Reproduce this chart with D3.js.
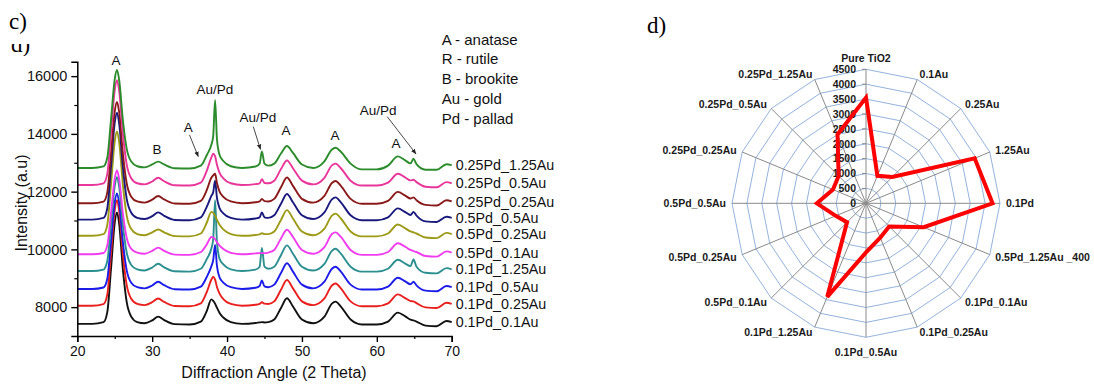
<!DOCTYPE html>
<html><head><meta charset="utf-8">
<script src="https://cdn.jsdelivr.net/npm/d3@7"></script>
<style>body{margin:0;background:#fff}svg{display:block}</style>
</head><body>
<svg id="chart" width="1094" height="385"></svg>
<script>
// ---------- XRD panel data ----------
const angles = [20,22,23.5,24,24.5, 25,25.3,25.6,26.1,26.6, 27.2,28,29,30,30.8, 31.6,33,35,36.5,37.3,
  37.9,38.15,38.4,38.65,39, 39.5,40.5,42,43.8,44.35, 44.65,45,45.5,46.3,47.2, 48,48.8,50,51.5,53,
  54,54.5,55.2,56.5,58, 60,61.5,62.8,63.8,64.5, 64.9,65.3,66.5,68,69.3, 70];
const seriesNames = ["0.1Pd_0.1Au","0.1Pd_0.25Au","0.1Pd_0.5Au","0.1Pd_1.25Au","0.5Pd_0.1Au",
  "0.5Pd_0.25Au","0.5Pd_0.5Au","0.25Pd_0.25Au","0.25Pd_0.5Au","0.25Pd_1.25Au"];
const baselines = [7420,8050,8630,9250,9830,10470,11030,11600,12230,12820];
// intensities above each series' baseline, read at the angles above
const pd01_au01 = [0,0,60,400,1900, 3500,3860,3450,1850,750, 250,60,20,120,250, 130,-10,-20,80,450, 850,800,700,560,380, 220,60,0,30,50, 60,50,60,150,550, 890,600,150,20,250, 700,770,600,150,-20, -20,80,390,260,150, 120,80,-60,-80,100, 60];
const pd01_au025 = [0,0,57,378,1797, 3311,3650,3264,1750,710, 237,60,20,120,250, 130,-10,-20,80,480, 900,1000,900,650,420, 230,60,0,30,60, 120,70,60,150,550, 890,600,150,20,250, 700,770,600,150,-20, -20,80,390,260,160, 150,90,-60,-80,100, 60];
const pd01_au05 = [0,0,51,343,1630, 3002,3310,2960,1587,644, 215,60,20,120,250, 130,-10,-20,80,420, 780,1000,1520,800,400, 220,60,0,40,100, 290,90,60,150,550, 890,600,150,20,250, 700,770,600,150,-20, -20,80,390,260,160, 250,120,-60,-80,100, 60];
const pd01_au125 = [0,0,51,337,1600, 2947,3250,2905,1558,632, 211,60,20,120,250, 130,-10,-20,80,420, 780,1100,2450,1000,420, 230,60,0,50,150, 800,150,80,150,550, 890,600,150,20,250, 700,770,600,150,-20, -20,80,390,260,170, 400,150,-60,-80,100, 60];
const pd05_au01 = [0,0,45,300,1427, 2629,2900,2591,1389,563, 188,60,20,120,230, 120,-10,-20,80,350, 600,580,520,420,300, 180,50,0,30,40, 40,40,60,150,550, 850,600,150,20,250, 700,760,600,150,-20, -20,80,380,260,150, 110,80,-60,-80,100, 60];
const pd05_au025 = [0,0,56,374,1777, 3273,3610,3226,1730,701, 234,60,20,120,220, 120,-10,-20,80,460, 830,800,700,560,380, 220,60,0,30,50, 90,60,60,150,550, 890,600,150,20,250, 700,770,600,150,-20, -20,80,390,260,150, 120,80,-60,-80,100, 60];
const pd05_au05 = [0,0,58,384,1822, 3356,3700,3309,1774,719, 240,60,20,120,250, 130,-10,-20,80,450, 820,950,1350,750,400, 220,60,0,40,80, 250,80,60,150,550, 890,600,150,20,250, 700,770,600,150,-20, -20,80,390,260,160, 270,140,-60,-80,100, 60];
const pd025_au025 = [0,0,55,364,1727, 3182,3510,3136,1682,682, 227,60,20,120,250, 130,-10,-20,80,460, 880,960,1020,700,400, 220,60,0,30,60, 150,70,60,150,550, 890,600,150,20,250, 700,770,600,150,-20, -20,80,390,260,160, 200,100,-60,-80,100, 60];
const pd025_au05 = [0,0,56,376,1786, 3290,3630,3243,1739,705, 235,60,20,120,250, 130,-10,-20,80,500, 950,1080,1000,700,420, 230,60,0,30,60, 200,70,60,150,550, 850,580,150,20,250, 680,740,580,150,-20, -20,80,390,260,160, 180,100,-60,-80,100, 60];
const pd025_au125 = [0,0,53,351,1668, 3073,3390,3029,1624,659, 220,60,20,120,220, 120,-10,-20,80,450, 800,1100,2350,1000,450, 240,60,0,50,150, 570,150,80,150,500, 760,520,120,0,230, 640,700,560,150,-50, -50,80,400,260,160, 320,130,-60,-60,130, 100];
const seriesValues = [pd01_au01,pd01_au025,pd01_au05,pd01_au125,pd05_au01,pd05_au025,pd05_au05,pd025_au025,pd025_au05,pd025_au125];
const xTicks = [20,30,40,50,60,70];
const yTicks = [8000,10000,12000,14000,16000];
const legendLines = ["A - anatase","R - rutile","B - brookite","Au - gold","Pd - pallad"];
const peakNotes = [
  {t:"A", a:25.17, i:16550},
  {t:"Au/Pd", a:38.38, i:15541},
  {t:"A", a:34.82, i:14217, a1:34.98, i1:13966, a2:36.15, i2:13217},
  {t:"B", a:30.64, i:13483},
  {t:"Au/Pd", a:44.13, i:14597, a1:43.5, i1:14252, a2:44.46, i2:13466},
  {t:"A", a:47.86, i:14138},
  {t:"A", a:54.4, i:13966},
  {t:"A", a:62.55, i:13679},
  {t:"Au/Pd", a:60.19, i:14828, a1:61.39, i1:14597, a2:65.22, i2:13310}
];

// ---------- Radar panel data ----------
const radarCategories = ["Pure TiO2","0.1Au","0.25Au","1.25Au","0.1Pd","0.5Pd_1.25Au _400","0.1Pd_0.1Au",
  "0.1Pd_0.25Au","0.1Pd_0.5Au","0.1Pd_1.25Au","0.5Pd_0.1Au","0.5Pd_0.25Au","0.5Pd_0.5Au",
  "0.25Pd_0.25Au","0.25Pd_0.5Au","0.25Pd_1.25Au"];
const radarValues = [3550,1000,1250,3950,4250,2100,1100,1250,1650,3400,900,1100,1650,1200,1300,2500];
const radarTicks = [0,500,1000,1500,2000,2500,3000,3500,4000,4500];

// ---------- styles ----------
const seriesColors = ["#111111","#e8201e","#1c1ce8","#2b8f8f","#f03cee","#9c9a16","#1a1a7e","#8a1a1a","#e8369a","#2b8c2b"];
const sans = "'Liberation Sans', Arial, sans-serif";
const serif = "'Liberation Serif', 'Times New Roman', serif";

const svg = d3.select("#chart");

// ===== Panel c =====
const x = d3.scaleLinear().domain([20,70]).range([77.3,451.7]);
const y = d3.scaleLinear().domain([7000,16500]).range([336,61.7]);
const gc = svg.append("g");

// panel letters (plus the cropped remnant of a label under it)
gc.append("text").attr("x",9).attr("y",29).attr("font-family",serif).attr("font-size",23).text("c)");
svg.append("clipPath").attr("id","cut").append("rect").attr("x",0).attr("y",44).attr("width",60).attr("height",12);
gc.append("text").attr("clip-path","url(#cut)").attr("x",11).attr("y",52).attr("font-family",serif).attr("font-size",23).text("d)");

// curves
const line = d3.line().x((d,i)=>x(angles[i])).y(d=>d).curve(d3.curveMonotoneX);
seriesValues.forEach((vals,k)=>{
  const ys = vals.map(v=>y(baselines[k]+v));
  gc.append("path").attr("d",line(ys)).attr("fill","none")
    .attr("stroke",seriesColors[k]).attr("stroke-width",1.9).attr("stroke-linejoin","round");
  gc.append("text").attr("x",x(70)+4).attr("y",ys[ys.length-1]).attr("dy","0.36em")
    .attr("font-family",sans).attr("font-size",14.3).attr("fill","#111").text(seriesNames[k]);
});

// axes
const xAxis = d3.axisBottom(x).tickValues(xTicks).tickSize(6).tickPadding(4).tickFormat(d3.format("d"));
const gx = gc.append("g").attr("transform","translate(0,336)").call(xAxis);
gx.select(".domain").attr("stroke","#000").attr("stroke-width",1.5);
gx.selectAll(".tick line").attr("stroke-width",1.4);
gx.selectAll("text").attr("font-family",sans).attr("font-size",14).attr("fill","#111");
const gxm = gc.append("g").attr("transform","translate(0,336)")
  .call(d3.axisBottom(x).tickValues([25,35,45,55,65]).tickSize(3).tickFormat(""));
gxm.select(".domain").remove();
gxm.selectAll(".tick line").attr("stroke-width",1.2);

const yAxis = d3.axisLeft(y).tickValues(yTicks).tickSize(6).tickPadding(4).tickFormat(d3.format("d"));
const gy = gc.append("g").attr("transform","translate(77.3,0)").call(yAxis);
gy.select(".domain").attr("stroke","#000").attr("stroke-width",1.5);
gy.selectAll(".tick line").attr("stroke-width",1.4);
gy.selectAll("text").attr("font-family",sans).attr("font-size",14.5).attr("fill","#111");
const gym = gc.append("g").attr("transform","translate(77.3,0)")
  .call(d3.axisLeft(y).tickValues([9000,11000,13000,15000]).tickSize(3).tickFormat(""));
gym.select(".domain").remove();
gym.selectAll(".tick line").attr("stroke-width",1.2);

gc.append("text").attr("x",274).attr("y",378).attr("text-anchor","middle")
  .attr("font-family",sans).attr("font-size",16).attr("fill","#111").text("Diffraction Angle (2 Theta)");
gc.append("text").attr("transform","translate(27,203) rotate(-90)").attr("text-anchor","middle")
  .attr("font-family",sans).attr("font-size",16).attr("fill","#111").text("Intensity (a.u)");

// legend text
legendLines.forEach((t,i)=>{
  gc.append("text").attr("x",441.7).attr("y",39.3+i*19.7).attr("dy","0.36em")
    .attr("font-family",sans).attr("font-size",15).attr("fill","#111").text(t);
});

// peak notes
svg.append("defs").append("marker").attr("id","ah").attr("viewBox","0 0 10 10").attr("refX",9).attr("refY",5)
  .attr("markerWidth",6).attr("markerHeight",6).attr("orient","auto")
  .append("path").attr("d","M0,1 L10,5 L0,9 z").attr("fill","#222");
peakNotes.forEach(n=>{
  gc.append("text").attr("x",x(n.a)).attr("y",y(n.i)).attr("dy","0.36em").attr("text-anchor","middle")
    .attr("font-family",sans).attr("font-size",13.5).attr("fill","#111").text(n.t);
  if(n.a1!==undefined){
    gc.append("line").attr("x1",x(n.a1)).attr("y1",y(n.i1)).attr("x2",x(n.a2)).attr("y2",y(n.i2))
      .attr("stroke","#333").attr("stroke-width",0.9).attr("marker-end","url(#ah)");
  }
});

// ===== Panel d (radar) =====
const cx = 866, cy = 203.3;
const r = d3.scaleLinear().domain([0,4500]).range([0,134]);
const n = radarCategories.length;
const ang = i => i*2*Math.PI/n;
const gd = svg.append("g").attr("transform",`translate(${cx},${cy})`);
svg.append("text").attr("x",647).attr("y",33).attr("font-family",serif).attr("font-size",23).text("d)");

const ringLine = d3.lineRadial().angle((d,i)=>ang(i)).radius(d=>r(d)).curve(d3.curveLinearClosed);
radarTicks.filter(t=>t>0).forEach(t=>{
  gd.append("path").attr("d",ringLine(d3.range(n).map(()=>t))).attr("fill","none")
    .attr("stroke","#94b3dc").attr("stroke-width",1);
});
radarCategories.forEach((c,i)=>{
  const a = ang(i);
  gd.append("line").attr("x1",0).attr("y1",0)
    .attr("x2",Math.sin(a)*r(4500)).attr("y2",-Math.cos(a)*r(4500))
    .attr("stroke","#8a8a8a").attr("stroke-width",1);
  const s = Math.sin(a), co = Math.cos(a);
  const anchor = Math.abs(s)<0.01 ? "middle" : (s>0 ? "start" : "end");
  const rl = anchor==="middle" ? (co>0?145.5:149) : 140;
  gd.append("text").attr("x",s*rl).attr("y",-co*rl).attr("dy","0.36em").attr("text-anchor",anchor)
    .attr("font-family",sans).attr("font-weight","bold").attr("font-size",10.5).attr("fill","#1a1a1a").text(c);
});
// first-axis ticks and labels
radarTicks.forEach(t=>{
  gd.append("line").attr("x1",-4).attr("x2",0).attr("y1",-r(t)).attr("y2",-r(t)).attr("stroke","#8a8a8a");
  gd.append("text").attr("x",-10).attr("y",-r(t)).attr("dy","0.36em").attr("text-anchor","end")
    .attr("font-family",sans).attr("font-weight","bold").attr("font-size",10.5).attr("fill","#1a1a1a").text(t);
});
gd.append("path").attr("d",ringLine(radarValues)).attr("fill","none")
  .attr("stroke","#ff0000").attr("stroke-width",4).attr("stroke-linejoin","miter");
</script>
</body></html>
